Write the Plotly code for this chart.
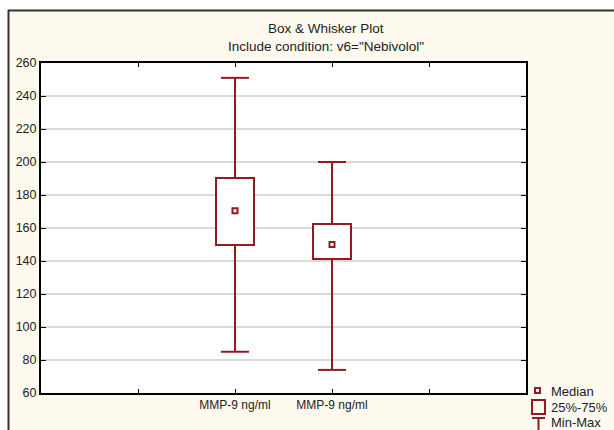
import plotly.graph_objects as go

# ---- data ----
variables = ["MMP-9 ng/ml", "MMP-9 ng/ml"]
medians = [170.5, 150.0]
q1 = [150.0, 141.5]
q3 = [190.5, 162.5]
mins = [85.0, 74.0]
maxs = [251.0, 200.0]
y_ticks = [60, 80, 100, 120, 140, 160, 180, 200, 220, 240, 260]

slots = [2, 3]          # x slots on a 0..5 axis
RED = "#8e1c22"
CREAM = "#fefaef"
FONT = "Liberation Sans, Arial, sans-serif"

W, H = 614, 430
L, R, T, B = 41, 88, 63, 37
PW, PH = W - L - R, H - T - B


def px(xp):
    return (xp - L) / PW


def py(yp):
    return (H - B - yp) / PH


fig = go.Figure()

# boxes (25%-75%)
fig.add_trace(go.Bar(
    x=slots, y=[b - a for a, b in zip(q1, q3)], base=q1, width=0.4,
    marker=dict(color="white", line=dict(color=RED, width=2)),
    showlegend=False, hoverinfo="skip"))

# whiskers
wx, wy = [], []
for s, lo, a, b, hi in zip(slots, mins, q1, q3, maxs):
    wx += [s, s, None, s, s, None]
    wy += [hi, b, None, a, lo, None]
fig.add_trace(go.Scatter(x=wx, y=wy, mode="lines",
                         line=dict(color=RED, width=2),
                         showlegend=False, hoverinfo="skip"))

# whisker caps
fig.add_trace(go.Scatter(
    x=slots + slots, y=mins + maxs, mode="markers",
    marker=dict(symbol="line-ew", size=20, line=dict(color=RED, width=2)),
    showlegend=False, hoverinfo="skip"))

# medians
fig.add_trace(go.Scatter(
    x=slots, y=medians, mode="markers",
    marker=dict(symbol="square-open", size=5, color=RED,
                line=dict(color=RED, width=2)),
    showlegend=False, hoverinfo="skip"))

shapes = [
    # white strips outside the outer frame
    dict(type="rect", xref="paper", yref="paper", x0=px(-5), x1=px(W + 5),
         y0=py(10), y1=py(-5), fillcolor="white", line_width=0, layer="below"),
    dict(type="rect", xref="paper", yref="paper", x0=px(-5), x1=px(8),
         y0=py(H + 5), y1=py(-5), fillcolor="white", line_width=0, layer="below"),
    # outer frame lines
    dict(type="line", xref="paper", yref="paper", x0=px(8), x1=px(W + 5),
         y0=py(10.5), y1=py(10.5), line=dict(color="#333333", width=2)),
    dict(type="line", xref="paper", yref="paper", x0=px(8.5), x1=px(8.5),
         y0=py(10), y1=py(H + 5), line=dict(color="#333333", width=2)),
    # legend symbols
    dict(type="rect", xref="paper", yref="paper", x0=px(535), x1=px(540),
         y0=py(388), y1=py(393), line=dict(color=RED, width=2)),
    dict(type="rect", xref="paper", yref="paper", x0=px(532), x1=px(545),
         y0=py(400), y1=py(414), line=dict(color=RED, width=2)),
    dict(type="line", xref="paper", yref="paper", x0=px(538.5), x1=px(538.5),
         y0=py(418), y1=py(432), line=dict(color=RED, width=2)),
    dict(type="line", xref="paper", yref="paper", x0=px(532), x1=px(545),
         y0=py(418), y1=py(418), line=dict(color=RED, width=2)),
]

annotations = [
    dict(text="Box & Whisker Plot", x=px(326), y=py(28), xref="paper", yref="paper",
         showarrow=False, font=dict(family=FONT, size=13.5, color="#222222"),
         xanchor="center", yanchor="middle"),
    dict(text='Include condition: v6="Nebivolol"', x=px(326), y=py(46),
         xref="paper", yref="paper", showarrow=False,
         font=dict(family=FONT, size=13.5, color="#222222"),
         xanchor="center", yanchor="middle"),
]
for label, yy in [("Median", 391), ("25%-75%", 407), ("Min-Max", 422)]:
    annotations.append(dict(text=label, x=px(549), y=py(yy), xref="paper", yref="paper",
                            showarrow=False, xanchor="left", yanchor="middle",
                            font=dict(family=FONT, size=13, color="#222222")))

fig.update_layout(
    width=W, height=H,
    margin=dict(l=L, r=R, t=T, b=B, pad=0),
    paper_bgcolor=CREAM, plot_bgcolor="white",
    showlegend=False, bargap=0,
    font=dict(family=FONT, size=12, color="#222222"),
    shapes=shapes, annotations=annotations,
    xaxis=dict(range=[0, 5], tickvals=[1, 2, 3, 4],
               ticktext=["", variables[0], variables[1], ""],
               ticks="inside", ticklen=4, tickcolor="black", tickwidth=1,
               showline=True, linecolor="black", linewidth=2, mirror="ticks",
               showgrid=False, zeroline=False, fixedrange=True,
               tickfont=dict(family=FONT, size=12, color="#222222")),
    yaxis=dict(range=[60, 260], tickvals=y_ticks,
               ticks="inside", ticklen=5, tickcolor="black", tickwidth=1,
               showline=True, linecolor="black", linewidth=2, mirror="ticks",
               showgrid=True, gridcolor="#dadada", gridwidth=2,
               zeroline=False, fixedrange=True,
               tickfont=dict(family=FONT, size=12.5, color="#222222")),
)

fig.write_html("out.html", config={"displayModeBar": False},
               post_script="document.body.style.margin='0';document.body.style.overflow='hidden';")
